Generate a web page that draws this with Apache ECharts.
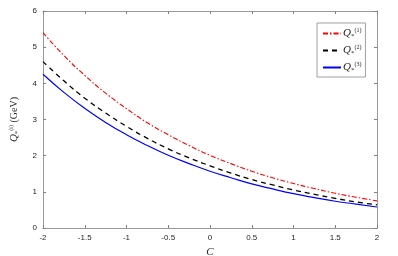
<!DOCTYPE html>
<html><head><meta charset="utf-8">
<script src="https://cdn.jsdelivr.net/npm/echarts@6/dist/echarts.min.js"></script>
<style>html,body{margin:0;padding:0;background:#fff}#c{width:398px;height:256px}</style>
</head><body><div id="c"></div>
<script>
const cValues = [-2,-1.75,-1.5,-1.25,-1,-0.75,-0.5,-0.25,0,0.25,0.5,0.75,1,1.25,1.5,1.75,2];
const q1 = [5.40,4.77,4.22,3.73,3.30,2.91,2.58,2.28,2.01,1.78,1.57,1.39,1.23,1.09,0.96,0.85,0.75];
const q2 = [4.60,4.07,3.59,3.18,2.81,2.48,2.19,1.94,1.72,1.52,1.34,1.19,1.05,0.93,0.82,0.72,0.64];
const q3 = [4.25,3.75,3.31,2.92,2.58,2.28,2.01,1.78,1.57,1.39,1.22,1.08,0.95,0.84,0.74,0.66,0.58];
const seriesLabels = ['(1)','(2)','(3)'];
const xTicks = {min:-2, max:2, interval:0.5};
const yTicks = {min:0, max:6, interval:1};

const pair = a => cValues.map((c,i)=>[c,a[i]]);
const axisCol = '#262626';
const lineCol = '#808080';
const font = 'Liberation Sans';
const rich = {
  q:{fontFamily:'Liberation Serif',fontStyle:'italic',fontSize:11,color:'#262626'},
  sub:{fontFamily:'Liberation Serif',fontSize:7,color:'#262626',verticalAlign:'bottom',padding:[6,0,0,0]},
  sup:{fontFamily:'Liberation Serif',fontSize:6,color:'#262626',verticalAlign:'top',padding:[0,0,7,0]}
};
const chart = echarts.init(document.getElementById('c'));
const baseX = {type:'value', min:xTicks.min, max:xTicks.max, interval:xTicks.interval,
  axisLine:{show:true,onZero:false,lineStyle:{color:lineCol,width:0.8}},
  axisTick:{show:true,inside:true,length:3,lineStyle:{color:lineCol}},
  splitLine:{show:false}};
const baseY = {type:'value', min:yTicks.min, max:yTicks.max, interval:yTicks.interval,
  axisLine:{show:true,onZero:false,lineStyle:{color:lineCol,width:0.8}},
  axisTick:{show:true,inside:true,length:3,lineStyle:{color:lineCol}},
  splitLine:{show:false}};
chart.setOption({
  animation:false,
  grid:{left:43,right:21,top:11,bottom:28,containLabel:false,outerBoundsMode:'none'},
  xAxis:[
    Object.assign({}, baseX, {position:'bottom',
      axisLabel:{color:axisCol,fontSize:8,fontFamily:font,margin:6},
      name:'C', nameLocation:'middle', nameGap:16,
      nameTextStyle:{fontFamily:'Liberation Serif',fontStyle:'italic',fontSize:11,color:'#262626'}}),
    Object.assign({}, baseX, {position:'top', axisLabel:{show:false}})
  ],
  yAxis:[
    Object.assign({}, baseY, {position:'left',
      axisLabel:{color:axisCol,fontSize:8,fontFamily:font,margin:6},
      name:'{q|Q}{sub|*}{sup|(i)}{n| (GeV)}', nameLocation:'middle', nameGap:22, nameRotate:90,
      nameTextStyle:{rich:Object.assign({n:{fontFamily:'Liberation Serif',fontSize:10,color:'#262626'}}, rich)}}),
    Object.assign({}, baseY, {position:'right', axisLabel:{show:false}})
  ],
  legend:{
    orient:'vertical', left:317, top:23, itemWidth:18, itemHeight:8, itemGap:4,
    backgroundColor:'#fff', borderColor:'#888', borderWidth:0.8, padding:[4,4,3,5],
    data:['q1','q2','q3'],
    itemStyle:{opacity:0},
    formatter: n => '{q|Q}{sub|*}{sup|' + seriesLabels[['q1','q2','q3'].indexOf(n)] + '}',
    textStyle:{rich:rich, padding:[0,0,0,-3]}
  },
  series:[
    {name:'q1', type:'line', data:pair(q1), smooth:true, symbol:'none', color:'#ff0000',
     lineStyle:{color:'#ff0000',width:1.1,type:[5,2,1.5,2]}},
    {name:'q2', type:'line', data:pair(q2), smooth:true, symbol:'none', color:'#000000',
     lineStyle:{color:'#000000',width:1.3,type:[5,4]}},
    {name:'q3', type:'line', data:pair(q3), smooth:true, symbol:'none', color:'#0000ff',
     lineStyle:{color:'#0000ff',width:1.2,type:'solid'}}
  ]
});
</script></body></html>
